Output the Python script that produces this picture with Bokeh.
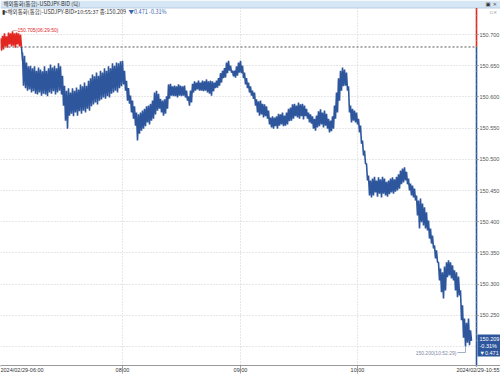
from bokeh.plotting import figure
from bokeh.models import Range1d, FixedTicker, PrintfTickFormatter
from bokeh.core.properties import value
from bokeh.embed import file_html
from bokeh.resources import INLINE

# ---------------- data ----------------
title_text = "해외통화(통합)-USDJPY-BID (틱)"
info_text = "▮<해외통화(통합)-USDJPY-BID>10:55:37 종:150.209"
change_text = "▼0.471  -0.31%"
prev_close = 150.680
last_price = 150.209
high_price = 150.705
high_label = "—150.705(06:29:50)"
low_price = 150.200
low_label = "150.200(10:52:29)"
last_box_lines = ["150.209", "-0.31%", "▼0.471"]

x_tick_pos = [0, 122, 240, 357]
x_tick_labels = ["2024/02/29-06:00", "08:00", "09:00", "10:00"]
end_time_label = "2024/02/29-10:55"
y_ticks = [150.20, 150.25, 150.30, 150.35, 150.40, 150.45, 150.50, 150.55, 150.60, 150.65, 150.70]

# tick index position, high and low of each small group of ticks
red_x = [0, 2, 4, 6, 8, 10, 12, 14, 16, 18, 20]
red_hi = [150.694, 150.698, 150.702, 150.697, 150.703, 150.702, 150.705, 150.702, 150.703, 150.702, 150.700]
red_lo = [150.674, 150.676, 150.681, 150.679, 150.684, 150.681, 150.682, 150.679, 150.684, 150.681, 150.679]

blue_x = [21, 22, 24, 26, 28, 30, 32, 34, 36, 38, 40, 42, 44, 46, 48, 50, 52, 54, 56, 58,
          60, 62, 64, 66, 68, 70, 72, 74, 76, 78, 80, 82, 84, 86, 88, 90, 92, 94, 96, 98,
          100, 102, 104, 106, 108, 110, 112, 114, 116, 118, 120, 122, 124, 126, 128, 130, 132, 134, 136, 138,
          140, 142, 144, 146, 148, 150, 152, 154, 156, 158, 160, 162, 164, 166, 168, 170, 172, 174, 176, 178,
          180, 182, 184, 186, 188, 190, 192, 194, 196, 198, 200, 202, 204, 206, 208, 210, 212, 214, 216, 218,
          220, 222, 224, 226, 228, 230, 232, 234, 236, 238, 240, 242, 244, 246, 248, 250, 252, 254, 256, 258,
          260, 262, 264, 266, 268, 270, 272, 274, 276, 278, 280, 282, 284, 286, 288, 290, 292, 294, 296, 298,
          300, 302, 304, 306, 308, 310, 312, 314, 316, 318, 320, 322, 324, 326, 328, 330, 332, 334, 336, 338,
          340, 342, 344, 346, 348, 350, 352, 354, 356, 358, 360, 362, 364, 366, 368, 370, 372, 374, 376, 378,
          380, 382, 384, 386, 388, 390, 392, 394, 396, 398, 400, 402, 404, 406, 408, 410, 412, 414, 416, 418,
          420, 422, 424, 426, 428, 430, 432, 434, 436, 438, 440, 442, 444, 446, 448, 450, 452, 454, 456, 458,
          460, 462, 464, 466, 468, 470]
blue_hi = [150.680, 150.671, 150.666, 150.655, 150.649, 150.650, 150.646, 150.649, 150.642, 150.647,
           150.644, 150.641, 150.649, 150.642, 150.646, 150.652, 150.647, 150.650, 150.646, 150.654,
           150.649, 150.634, 150.618, 150.610, 150.614, 150.607, 150.614, 150.610, 150.615, 150.612,
           150.620, 150.617, 150.623, 150.618, 150.626, 150.630, 150.636, 150.633, 150.639, 150.634,
           150.642, 150.639, 150.646, 150.642, 150.649, 150.646, 150.654, 150.650, 150.655, 150.654,
           150.657, 150.658, 150.642, 150.626, 150.614, 150.602, 150.594, 150.585, 150.575, 150.572,
           150.575, 150.578, 150.581, 150.585, 150.586, 150.589, 150.594, 150.607, 150.610, 150.605,
           150.597, 150.594, 150.596, 150.601, 150.620, 150.621, 150.617, 150.618, 150.617, 150.620,
           150.618, 150.617, 150.618, 150.610, 150.601, 150.610, 150.621, 150.625, 150.623, 150.626,
           150.623, 150.626, 150.625, 150.628, 150.625, 150.626, 150.625, 150.623, 150.626, 150.630,
           150.638, 150.642, 150.646, 150.655, 150.658, 150.650, 150.642, 150.642, 150.649, 150.655,
           150.658, 150.650, 150.639, 150.630, 150.623, 150.617, 150.610, 150.607, 150.596, 150.593,
           150.594, 150.589, 150.588, 150.585, 150.578, 150.567, 150.569, 150.567, 150.569, 150.573,
           150.572, 150.575, 150.570, 150.575, 150.581, 150.583, 150.588, 150.589, 150.586, 150.591,
           150.588, 150.589, 150.586, 150.581, 150.575, 150.572, 150.569, 150.565, 150.570, 150.577,
           150.580, 150.575, 150.578, 150.573, 150.565, 150.562, 150.569, 150.586, 150.607, 150.630,
           150.642, 150.647, 150.644, 150.639, 150.617, 150.586, 150.581, 150.578, 150.575, 150.565,
           150.554, 150.530, 150.514, 150.493, 150.474, 150.466, 150.469, 150.472, 150.466, 150.471,
           150.468, 150.472, 150.469, 150.464, 150.466, 150.469, 150.471, 150.468, 150.472, 150.476,
           150.482, 150.485, 150.487, 150.480, 150.469, 150.461, 150.458, 150.453, 150.442, 150.434,
           150.437, 150.429, 150.423, 150.415, 150.402, 150.389, 150.378, 150.362, 150.354, 150.335,
           150.325, 150.319, 150.328, 150.335, 150.338, 150.335, 150.330, 150.322, 150.319, 150.312,
           150.290, 150.266, 150.245, 150.238, 150.245, 150.226]
blue_lo = [150.658, 150.618, 150.614, 150.610, 150.612, 150.607, 150.609, 150.605, 150.604, 150.607,
           150.602, 150.605, 150.604, 150.601, 150.607, 150.605, 150.609, 150.604, 150.607, 150.610,
           150.604, 150.586, 150.562, 150.549, 150.570, 150.573, 150.569, 150.575, 150.570, 150.577,
           150.573, 150.578, 150.575, 150.581, 150.578, 150.585, 150.588, 150.591, 150.588, 150.594,
           150.596, 150.599, 150.597, 150.601, 150.599, 150.605, 150.607, 150.610, 150.607, 150.614,
           150.617, 150.620, 150.610, 150.594, 150.589, 150.575, 150.565, 150.554, 150.530, 150.541,
           150.546, 150.549, 150.553, 150.559, 150.556, 150.562, 150.565, 150.572, 150.578, 150.581,
           150.575, 150.570, 150.573, 150.581, 150.597, 150.602, 150.601, 150.601, 150.599, 150.602,
           150.601, 150.602, 150.599, 150.594, 150.586, 150.591, 150.607, 150.610, 150.612, 150.610,
           150.610, 150.609, 150.610, 150.607, 150.605, 150.602, 150.609, 150.614, 150.615, 150.618,
           150.623, 150.630, 150.631, 150.638, 150.642, 150.639, 150.633, 150.631, 150.634, 150.639,
           150.638, 150.630, 150.620, 150.614, 150.607, 150.602, 150.597, 150.586, 150.575, 150.570,
           150.572, 150.567, 150.569, 150.565, 150.556, 150.551, 150.549, 150.553, 150.549, 150.554,
           150.556, 150.553, 150.554, 150.556, 150.561, 150.562, 150.565, 150.569, 150.567, 150.565,
           150.569, 150.564, 150.569, 150.565, 150.559, 150.557, 150.549, 150.546, 150.551, 150.553,
           150.556, 150.551, 150.554, 150.549, 150.543, 150.545, 150.549, 150.565, 150.575, 150.594,
           150.610, 150.617, 150.618, 150.610, 150.575, 150.559, 150.562, 150.559, 150.556, 150.543,
           150.525, 150.506, 150.493, 150.466, 150.442, 150.439, 150.442, 150.447, 150.440, 150.445,
           150.439, 150.445, 150.442, 150.440, 150.444, 150.447, 150.445, 150.448, 150.450, 150.453,
           150.460, 150.463, 150.466, 150.460, 150.450, 150.442, 150.439, 150.434, 150.410, 150.389,
           150.399, 150.394, 150.389, 150.386, 150.373, 150.365, 150.357, 150.341, 150.335, 150.306,
           150.287, 150.277, 150.290, 150.311, 150.314, 150.309, 150.306, 150.290, 150.279, 150.282,
           150.242, 150.214, 150.200, 150.206, 150.202, 150.209]

# ---------------- layout / styling constants ----------------
RED = "#e3261f"
BLUE = "#2d569c"
FONT_KR = "Noto Sans CJK KR"
FONT_NUM = "Liberation Sans"
X_MAX = 500          # whole canvas width in tick-index units (1 unit = 1 px)
X_AXIS_POS = 476     # price axis position (last tick index area)
PX = 0.05 / 31.2     # price per pixel
Y_TOP = 150.7545     # price at the very top of the canvas
Y_BOT = Y_TOP - 374 * PX


def py(pix):
    """price located at a given pixel row (used only to place decorations)"""
    return Y_TOP - pix * PX


def zigzag(xs, hi, lo):
    ox, oy = [], []
    for x, h, l in zip(xs, hi, lo):
        ox += [x, x + 1]
        oy += [h, l]
    return ox, oy


p = figure(width=500, height=374, x_range=Range1d(0, X_MAX), y_range=Range1d(Y_BOT, Y_TOP),
           y_axis_location="right", toolbar_location=None, output_backend="svg", min_border=0)
p.outline_line_color = None
p.background_fill_color = "white"
p.border_fill_color = "white"

# ---- price axis (right, fixed at the last tick position) ----
yax = p.yaxis[0]
yax.fixed_location = X_AXIS_POS
# the 150.200 label is hidden under the last-price marker in the reference
yax.ticker = FixedTicker(ticks=y_ticks[1:],
                         minor_ticks=[round(150.21 + 0.01 * i, 2) for i in range(54)])
yax.formatter = PrintfTickFormatter(format="%.3f")
yax.major_label_text_font = FONT_NUM
yax.major_label_text_font_size = "5.5px"
yax.major_label_text_color = "#555555"
yax.major_label_standoff = 1
yax.major_tick_in = 0
yax.major_tick_out = 2
yax.minor_tick_in = 0
yax.minor_tick_out = 1
yax.major_tick_line_color = "#777777"
yax.minor_tick_line_color = "#aaaaaa"
yax.axis_line_color = None

# ---- time axis (bottom) ----
xax = p.xaxis[0]
xax.fixed_location = py(365)
xax.ticker = FixedTicker(ticks=x_tick_pos)
xax.major_label_overrides = {pos: lab for pos, lab in zip(x_tick_pos, x_tick_labels)}
xax.major_label_text_align = "left"
xax.major_label_text_font = FONT_NUM
xax.major_label_text_font_size = "5.5px"
xax.major_label_text_color = "#333333"
xax.major_label_standoff = 0
xax.major_tick_in = 0
xax.major_tick_out = 1
xax.minor_tick_line_color = None
xax.major_tick_line_color = "#888888"
xax.axis_line_color = "#9a9a9a"

# ---- grids ----
p.ygrid.ticker = FixedTicker(ticks=y_ticks)
p.ygrid.grid_line_color = "#cfcfcf"
p.ygrid.grid_line_dash = "1 2"
p.xgrid.grid_line_color = "#cfcfcf"
p.xgrid.grid_line_dash = "1 2"

# white mask over the price-axis label strip (hide grid there)
p.quad(left=[X_AXIS_POS + 0.5], right=[X_MAX], bottom=[py(365)], top=[py(7)],
       fill_color="white", line_color=None)

# small solid tick marks through the time-label row
p.segment(x0=x_tick_pos[1:], y0=[py(365)] * 3, x1=x_tick_pos[1:], y1=[py(373)] * 3,
          line_color="#999999", line_width=0.8)

# header bar
p.quad(left=[0], right=[X_MAX], bottom=[py(7.5)], top=[Y_TOP], fill_color="#d7e6f4",
       line_color=None)
p.segment(x0=[0], y0=[py(7.5)], x1=[X_MAX], y1=[py(7.5)], line_color="#a9c4e0", line_width=0.8)
p.text(x=[3], y=[py(3.8)], text=[title_text], text_font=value(FONT_KR), text_font_size="5.5px",
       text_baseline="middle", text_color="#333333")
p.text(x=[485], y=[py(3.8)], text=["▣ ×"], text_font=value("DejaVu Sans"), text_font_size="5.5px",
       text_baseline="middle", text_color="#333333")

# previous close dotted line
p.segment(x0=[0], y0=[prev_close], x1=[X_AXIS_POS], y1=[prev_close], line_color="#555555",
          line_dash="2 2", line_width=1)

# price series (tick chart: dense zigzag between highs and lows)
rx, ry = zigzag(red_x, red_hi, red_lo)
bx, by = zigzag(blue_x, blue_hi, blue_lo)
p.line(rx + [blue_x[0]], ry + [blue_hi[0]], line_color=RED, line_width=1.6)
p.line(bx, by, line_color=BLUE, line_width=1.6)

# right edge price line: red above previous close, blue below
p.segment(x0=[X_AXIS_POS], y0=[prev_close], x1=[X_AXIS_POS], y1=[py(7.5)], line_color=RED, line_width=1.6)
p.segment(x0=[X_AXIS_POS], y0=[py(366)], x1=[X_AXIS_POS], y1=[prev_close], line_color=BLUE, line_width=1.6)

# info line
info_y = py(11)
p.text(x=[1], y=[info_y], text=[info_text], text_font=value(FONT_KR), text_font_size="5.5px",
       text_baseline="middle", text_color="#333333")
p.text(x=[128], y=[info_y], text=[change_text], text_font=value(FONT_KR), text_font_size="5.5px",
       text_baseline="middle", text_color="#3a63b0")
p.text(x=[489], y=[info_y], text=["▫×"], text_font=value("DejaVu Sans"), text_font_size="5px",
       text_baseline="middle", text_color="#888888")

# high label
p.text(x=[12], y=[high_price + 0.0015], text=[high_label], text_font=value(FONT_NUM),
       text_font_size="5px", text_baseline="middle", text_color=RED)

# low label with leader
low_y = py(352)
p.text(x=[456], y=[low_y], text=[low_label], text_font=value(FONT_NUM), text_font_size="5px",
       text_baseline="middle", text_align="right", text_color="#7d8aa5")
p.segment(x0=[457, 465], y0=[low_y, low_y], x1=[465, 465], y1=[low_y, low_price],
          line_color="#8d9ab5", line_width=0.8)

# last price marker on the price axis
p.quad(left=[X_AXIS_POS + 1], right=[X_MAX], bottom=[py(356)], top=[py(334)],
       fill_color=BLUE, line_color=None)
p.text(x=[479, 479, 479], y=[py(338), py(345), py(352)], text=last_box_lines,
       text_font=value(FONT_NUM), text_font_size="5.5px", text_baseline="middle",
       text_color="white")

# end-time label at bottom right
p.text(x=[499], y=[py(369.5)], text=[end_time_label], text_font=value(FONT_NUM),
       text_font_size="5.5px", text_baseline="middle", text_align="right", text_color="#333333")

open("out.html", "w").write(file_html(p, INLINE))
